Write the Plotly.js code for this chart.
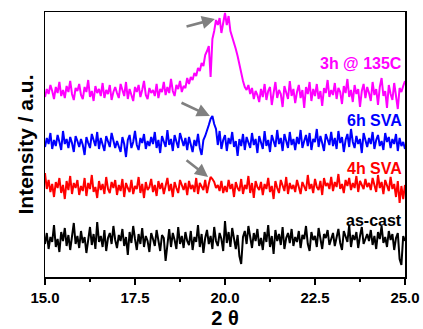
<!DOCTYPE html>
<html>
<head>
<meta charset="utf-8">
<script src="https://cdn.plot.ly/plotly-3.0.1.min.js"></script>
<style>html,body{margin:0;padding:0;background:#fff;}#chart{width:423px;height:329px;}</style>
</head>
<body>
<div id="chart"></div>
<script>
// 2θ sampled every 0.05 from 15.0 to 25.0 (201 points)
const thetaStart = 15.0;
const thetaStep = 0.05;

// Intensities (arbitrary units, traces already stacked)
const cast3h135 = [
180,188,183,192,186,178,190,184,195,181,187,179,191,185,196,183,177,189,186,193,
182,178,190,185,197,180,186,176,191,184,188,181,194,179,187,183,192,177,185,190,
184,179,193,186,181,195,178,188,183,176,190,185,192,180,187,196,182,178,189,184,
187,181,193,179,188,185,195,182,190,184,198,186,181,192,188,196,185,191,189,199,
193,200,197,204,201,209,206,214,211,222,226,231,200,238,246,257,252,259,244,255,
264,252,261,246,240,236,228,221,212,203,196,190,187,192,183,189,178,186,182,175,
188,180,193,177,186,190,172,184,195,179,187,183,170,191,185,178,196,181,188,174,
185,192,179,187,169,190,183,195,176,188,181,193,178,186,171,189,184,197,180,187,
182,194,178,189,185,173,191,184,198,180,187,175,192,183,188,170,186,193,179,190,
184,176,195,182,188,172,190,199,181,186,169,192,183,177,194,180,168,189,185,191,
196];

const sva6h = [
130,139,133,144,128,137,131,142,135,127,146,133,138,129,140,134,125,141,136,130,
138,132,122,140,134,129,143,136,131,145,128,139,133,126,141,135,130,144,137,129,
136,131,125,140,133,120,137,142,129,135,146,132,127,139,134,143,128,136,131,140,
133,145,129,137,124,141,135,130,147,132,138,126,142,134,129,144,136,131,139,127,
140,133,125,137,131,143,129,122,137,141,148,152,158,161,153,148,132,146,128,137,
142,126,139,133,145,130,136,121,138,131,143,127,140,135,129,144,132,138,124,141,
134,128,146,131,137,125,142,135,130,147,133,139,126,143,136,129,145,132,138,127,
140,133,147,129,136,142,131,144,127,138,135,148,130,141,134,126,143,137,132,145,
131,139,128,146,134,140,125,137,143,130,148,135,129,141,133,138,124,144,136,130,
139,133,145,128,137,142,131,136,127,144,135,140,129,138,133,143,126,139,131,135,
128];

const sva4h = [
104,88,97,85,93,80,95,89,99,84,92,78,96,87,101,83,94,89,97,82,
91,86,99,81,94,88,102,85,90,79,96,87,93,83,100,88,84,95,89,97,
82,92,86,98,80,94,89,85,97,83,91,88,100,84,93,79,95,87,90,98,
85,92,81,96,88,94,83,90,99,86,93,80,95,89,84,97,91,87,94,82,
96,88,92,85,99,83,94,90,87,97,84,93,100,98,95,89,92,86,96,84,
91,85,97,88,93,80,95,89,86,98,83,92,88,101,84,94,79,96,90,87,
95,82,93,88,99,85,91,78,96,89,84,97,90,86,100,83,94,88,92,85,
97,89,83,95,91,86,102,88,93,84,98,90,87,96,82,99,91,94,88,100,
86,95,90,103,88,93,84,97,91,99,87,94,89,101,85,96,92,88,98,90,
94,87,99,91,85,102,89,95,83,97,90,86,100,88,93,80,96,74,91,78,
92];

const asCast = [
33,44,28,40,35,52,30,38,25,45,36,49,31,42,27,39,54,33,41,29,
46,34,40,24,38,50,32,43,28,55,35,41,30,47,26,39,44,33,51,37,
29,42,36,48,31,40,22,45,34,51,38,27,43,33,49,30,41,36,25,44,
38,31,47,35,26,42,39,16,34,48,30,44,37,28,50,33,41,29,45,36,
32,46,27,40,35,52,30,43,24,39,47,33,41,28,50,36,31,44,38,26,
56,34,45,30,49,37,28,42,21,13,40,46,33,51,38,29,44,36,48,31,
39,27,45,35,52,30,41,23,47,36,43,32,50,28,39,44,34,48,31,40,
35,46,29,42,38,51,33,26,45,37,41,30,49,36,28,43,39,47,32,38,
44,31,39,48,34,27,46,40,35,52,30,42,37,45,29,41,50,33,38,43,
36,47,32,41,28,45,38,51,34,40,30,46,37,43,27,39,44,18,12,41,
36];

const seriesNames = ["3h @ 135C", "6h SVA", "4h SVA", "as-cast"];
const seriesColors = ["#ff00ff", "#0000ff", "#ff0000", "#000000"];
const seriesData = [cast3h135, sva6h, sva4h, asCast];
const labelY = [214, 157, 109, 57];

const xTickVals = [15.0, 17.5, 20.0, 22.5, 25.0];
const xTickText = ["15.0", "17.5", "20.0", "22.5", "25.0"];

// arrows: [headX, headY, tailX, tailY]
const arrowHeads = [[19.72, 258, 18.89, 250], [19.58, 161, 18.75, 175], [19.53, 100, 18.89, 118]];

function thetaAxis(n) {
  const xs = [];
  for (let i = 0; i < n; i++) xs.push(+(thetaStart + i * thetaStep).toFixed(2));
  return xs;
}

const boldFont = (size, color) => ({family: 'Arial, "Liberation Sans", sans-serif', size: size, color: color, weight: 700});
const b = s => '<b>' + s + '</b>';

const traces = seriesData.map((ys, k) => ({
  type: 'scatter', mode: 'lines', x: thetaAxis(ys.length), y: ys,
  name: seriesNames[k], line: {color: seriesColors[k], width: 2}, hoverinfo: 'skip'
}));

const annotations = seriesNames.map((t, k) => ({
  x: 24.96, y: labelY[k], xref: 'x', yref: 'y', text: b(t), showarrow: false,
  xanchor: 'right', yanchor: 'middle', font: boldFont(16, seriesColors[k])
})).concat(arrowHeads.map(a => ({
  x: a[0], y: a[1], ax: a[2], ay: a[3], xref: 'x', yref: 'y', axref: 'x', ayref: 'y',
  text: '', showarrow: true, arrowhead: 2, arrowsize: 1, arrowwidth: 2.6, arrowcolor: '#808080', standoff: 0
})));

const layout = {
  width: 423, height: 329,
  margin: {l: 45, r: 18, t: 12, b: 52},
  paper_bgcolor: '#ffffff', plot_bgcolor: '#ffffff',
  showlegend: false,
  xaxis: {
    range: [15, 25], tickvals: xTickVals, ticktext: xTickText.map(b),
    ticks: 'outside', ticklen: 6, tickwidth: 1.5, tickcolor: '#000',
    minor: {dtick: 1.25, tick0: 15, ticks: 'outside', ticklen: 3, tickwidth: 1.5, tickcolor: '#000'},
    showline: true, linecolor: '#000', linewidth: 1.5, mirror: true,
    showgrid: false, zeroline: false,
    tickfont: boldFont(15, '#000'),
    title: {text: b('2 θ'), font: boldFont(20, '#000'), standoff: 6}
  },
  yaxis: {
    range: [0, 265], showticklabels: false, ticks: '',
    showline: true, linecolor: '#000', linewidth: 1.5, mirror: true,
    showgrid: false, zeroline: false,
    title: {text: b('Intensity / a.u.'), font: boldFont(21, '#000'), standoff: 4}
  },
  annotations: annotations
};

Plotly.newPlot('chart', traces, layout, {staticPlot: true, displayModeBar: false});
</script>
</body>
</html>
